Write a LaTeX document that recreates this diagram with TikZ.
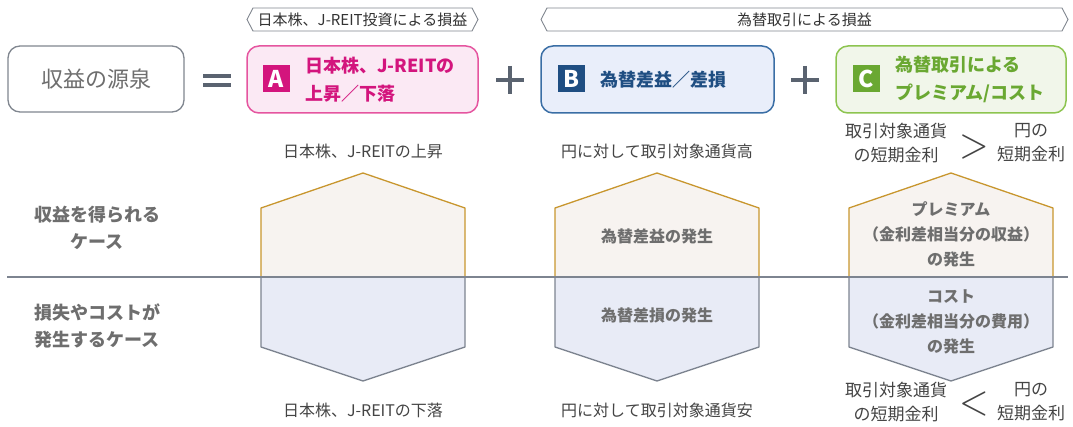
\documentclass[tikz,border=0pt]{standalone}
\usepackage{fontspec}
\setmainfont{Noto Sans CJK JP}
\usetikzlibrary{positioning}

\definecolor{srcgray}{HTML}{80868F}
\definecolor{opgray}{HTML}{5A6370}
\definecolor{txtgray}{HTML}{444444}
\definecolor{boldgray}{HTML}{6E6E6E}
\definecolor{pinkline}{HTML}{E5559F}
\definecolor{pinkfill}{HTML}{FBE9F4}
\definecolor{pinktext}{HTML}{D3157D}
\definecolor{blueline}{HTML}{3A6EA5}
\definecolor{bluefill}{HTML}{E9EEFA}
\definecolor{bluetext}{HTML}{1F4E82}
\definecolor{greenline}{HTML}{8DC450}
\definecolor{greenfill}{HTML}{F1F6EA}
\definecolor{greentext}{HTML}{6AA832}
\definecolor{goldline}{HTML}{C8962E}
\definecolor{upfill}{HTML}{F7F3F0}
\definecolor{downline}{HTML}{7D8490}
\definecolor{downfill}{HTML}{E8EBF6}

\tikzset{
  srcbox/.style={draw=srcgray, line width=1.3pt, rounded corners=12pt, fill=white},
  itembox/.style={line width=1.5pt, rounded corners=12pt},
  badge/.style={minimum size=27pt, inner sep=0pt, text=white,
    font=\fontsize{23}{23}\selectfont\bfseries},
  boxtext/.style={anchor=west, align=left, inner sep=0pt,
    font=\fontsize{18}{28}\selectfont\bfseries},
  caselabel/.style={align=center, text=txtgray, inner sep=0pt,
    font=\fontsize{16}{24}\selectfont},
  compare/.style={align=center, text=txtgray, inner sep=0pt,
    font=\fontsize{17}{24}\selectfont},
  relsign/.style={text=txtgray, inner sep=0pt},
  hextext/.style={align=center, text=boldgray, inner sep=0pt,
    font=\fontsize{16}{25}\selectfont\bfseries},
  sidetext/.style={align=center, text=boldgray, inner sep=0pt,
    font=\fontsize{18}{27}\selectfont\bfseries},
  bracket/.style={draw=srcgray, line width=0.9pt, fill=white},
}

\begin{document}
\begin{tikzpicture}[x=1pt, y=-1pt]

    \useasboundingbox (0,0) rectangle (1073,427);

    % 1. Top brackets
    \draw[bracket] (247,19.5) -- (253,8) -- (472,8) -- (478,19.5) -- (472,31) -- (253,31) -- cycle;
    \node[caselabel, text=black!80, font=\fontsize{15}{15}\selectfont] (brA) at (362.5,19.5) {日本株、J-REIT投資による損益};
    \draw[bracket] (541,19.5) -- (547,8) -- (1062,8) -- (1068,19.5) -- (1062,31) -- (547,31) -- cycle;
    \node[caselabel, text=black!80, font=\fontsize{15}{15}\selectfont] (brBC) at (804.5,19.5) {為替取引による損益};

    % 2. Source box and the operators
    \draw[srcbox] (8,46) rectangle (184,112);
    \node[text=boldgray, font=\fontsize{22}{22}\selectfont] (src) at (96,79) {収益の源泉};
    \coordinate (eq) at (217,80.5);
    \draw[opgray, line width=4pt] ([xshift=-14pt,yshift=-4.5pt]eq) -- ([xshift=14pt,yshift=-4.5pt]eq);
    \draw[opgray, line width=4pt] ([xshift=-14pt,yshift=4.5pt]eq) -- ([xshift=14pt,yshift=4.5pt]eq);
    \foreach \px in {510,805} {
        \draw[opgray, line width=4pt] (\px-14,80) -- (\px+14,80);
        \draw[opgray, line width=4pt] (\px,66) -- (\px,94);
    }

    % 3. Boxes A, B and C
    \draw[itembox, draw=pinkline, fill=pinkfill] (247,46) rectangle (478,113);
    \node[badge, fill=pinktext] (bA) at (276,79) {A};
    \node[boxtext, text=pinktext] (tA) at (305,80) {日本株、J-REITの\\上昇／下落};

    \draw[itembox, draw=blueline, fill=bluefill] (541,46) rectangle (774,113);
    \node[badge, fill=bluetext] (bB) at (571,79) {B};
    \node[boxtext, text=bluetext] (tB) at (600,80) {為替差益／差損};

    \draw[itembox, draw=greenline, fill=greenfill] (836,46) rectangle (1066,113);
    \node[badge, fill=greentext] (bC) at (866,79) {C};
    \node[boxtext, text=greentext] (tC) at (895,79) {為替取引による\\プレミアム/コスト};

    % 4. Hexagons, upper half gain and lower half loss
    \foreach \cx in {363,657,951} {
        \filldraw[fill=upfill, draw=goldline, line width=1.3pt, line join=round]
            (\cx-102,277) -- (\cx-102,208) -- (\cx,173) -- (\cx+102,208) -- (\cx+102,277);
        \filldraw[fill=downfill, draw=downline, line width=1.3pt, line join=round]
            (\cx-102,277) -- (\cx-102,347) -- (\cx,381) -- (\cx+102,347) -- (\cx+102,277);
    }

    % 5. Dividing line
    \draw[downline, line width=1.2pt] (7,277) -- (1068,277);

    % 6. Row labels on the left
    \node[sidetext] (gain) at (97,228) {収益を得られる\\ケース};
    \node[sidetext] (loss) at (97,326) {損失やコストが\\発生するケース};

    % 7. Case labels above and below the hexagons
    \node[caselabel] (upA) at (363,151) {日本株、J-REITの上昇};
    \node[caselabel] (dnA) at (363,410) {日本株、J-REITの下落};
    \node[caselabel] (upB) at (657,151) {円に対して取引対象通貨高};
    \node[caselabel] (dnB) at (657,410) {円に対して取引対象通貨安};

    \node[compare] (upCl) at (896,143) {取引対象通貨\\の短期金利};
    \node[relsign] (gt) at (974,147) {\scalebox{3.8}[4.2]{$>$}};
    \node[compare] (upCr) at (1031,143) {円の\\短期金利};
    \node[compare] (dnCl) at (896,402) {取引対象通貨\\の短期金利};
    \node[relsign] (lt) at (974,404) {\scalebox{3.8}[4.2]{$<$}};
    \node[compare] (dnCr) at (1031,402) {円の\\短期金利};

    % 8. Texts inside the hexagons
    \node[hextext] (gB) at (657,236) {為替差益の発生};
    \node[hextext] (lB) at (657,315) {為替差損の発生};
    \node[hextext] (gC) at (951,234) {プレミアム\\（金利差相当分の収益）\\の発生};
    \node[hextext] (lC) at (951,322) {コスト\\（金利差相当分の費用）\\の発生};

\end{tikzpicture}
\end{document}
